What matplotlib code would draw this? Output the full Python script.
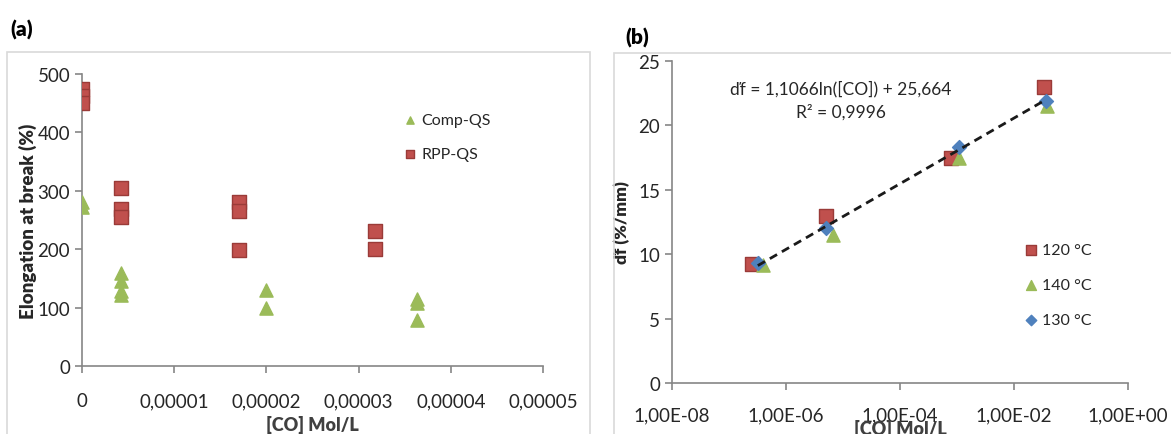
import numpy as np
import matplotlib
matplotlib.use("Agg")
import matplotlib.pyplot as plt
from matplotlib.patches import Rectangle

plt.rcParams['font.family'] = ['Lato', 'DejaVu Sans']

# ---------------- Panel (a) data ----------------
rpp_x = [0, 0, 0, 4.2e-6, 4.2e-6, 4.2e-6, 1.7e-5, 1.7e-5, 1.7e-5, 3.18e-5, 3.18e-5]
rpp_y = [475, 462, 450, 305, 268, 255, 280, 265, 198, 231, 201]
comp_x = [0, 0, 4.2e-6, 4.2e-6, 4.2e-6, 4.2e-6, 2.0e-5, 2.0e-5, 3.63e-5, 3.63e-5, 3.63e-5]
comp_y = [281, 272, 160, 145, 128, 121, 130, 100, 115, 108, 79]
a_xticks = [0, 1e-5, 2e-5, 3e-5, 4e-5, 5e-5]
a_xticklabels = ["0", "0,00001", "0,00002", "0,00003", "0,00004", "0,00005"]
a_yticks = [0, 100, 200, 300, 400, 500]

# ---------------- Panel (b) data ----------------
t120_x = [2.5e-7, 5.1e-6, 7.8e-4, 3.4e-2]
t120_y = [9.27, 13.0, 17.5, 22.95]
t140_x = [3.9e-7, 6.8e-6, 1.1e-3, 3.8e-2]
t140_y = [9.2, 11.5, 17.5, 21.5]
t130_x = [3.2e-7, 5.1e-6, 1.07e-3, 3.6e-2]
t130_y = [9.3, 12.0, 18.3, 21.9]
fit_a = 1.1066
fit_b = 25.664
b_xticks = [1e-8, 1e-6, 1e-4, 1e-2, 1e0]
b_xticklabels = ["1,00E-08", "1,00E-06", "1,00E-04", "1,00E-02", "1,00E+00"]
b_yticks = [0, 5, 10, 15, 20, 25]

RED = "#C0504D"
RED_E = "#9A3B38"
GREEN = "#9BBB59"
BLUE = "#4F81BD"
SPINE = "#868686"
TXT = "#404040"

W, H = 1171, 435
fig = plt.figure(figsize=(W / 100, H / 100), dpi=100)

def frac(l, t, r, b):
    return [l / W, 1 - b / H, (r - l) / W, (b - t) / H]

# frames
fig.patches.append(Rectangle((7 / W, -0.1), (590 - 7) / W, 1 - 53 / H + 0.1,
                             transform=fig.transFigure, fill=False,
                             edgecolor="#D9D9D9", lw=1.2))
fig.patches.append(Rectangle((614 / W, -0.1), (1175 - 614) / W, 1 - 54 / H + 0.1,
                             transform=fig.transFigure, fill=False,
                             edgecolor="#D9D9D9", lw=1.2))

def style(ax):
    for s in ["top", "right"]:
        ax.spines[s].set_visible(False)
    for s in ["left", "bottom"]:
        ax.spines[s].set_color(SPINE)
        ax.spines[s].set_linewidth(1.2)
    ax.tick_params(direction="out", length=5, width=1.2, color=SPINE,
                   labelsize=13.5, labelcolor="#262626")

# ---------------- Panel (a) ----------------
axa = fig.add_axes(frac(82, 75, 543, 367))
style(axa)
axa.scatter(comp_x, comp_y, marker="^", s=90, color=GREEN, edgecolors=GREEN,
            label="Comp-QS", zorder=3)
axa.scatter(rpp_x, rpp_y, marker="s", s=110, color=RED, edgecolors=RED_E,
            linewidths=1, label="RPP-QS", zorder=3)
axa.set_xlim(0, 5e-5)
axa.set_ylim(0, 500)
axa.set_xticks(a_xticks)
axa.set_xticklabels(a_xticklabels)
axa.set_yticks(a_yticks)
axa.tick_params(axis="x", pad=14)
axa.set_xlabel("[CO] Mol/L", fontsize=13, fontweight="heavy", color=TXT, labelpad=4)
axa.set_ylabel("Elongation at break (%)", fontsize=13.5, fontweight="heavy",
               color="#262626", labelpad=0)
axa.legend(loc="upper left", bbox_to_anchor=(0.66, 0.915), frameon=False,
           fontsize=11.5, handletextpad=0.1, labelspacing=1.2,
           markerscale=0.55, handlelength=1.2, labelcolor="#262626")
fig.text(10 / W, 1 - 30 / H, "(a)", fontsize=15, fontweight="heavy",
         va="center", ha="left")

# ---------------- Panel (b) ----------------
axb = fig.add_axes(frac(672, 62, 1128, 384))
style(axb)
axb.set_xscale("log")
axb.scatter(t120_x, t120_y, marker="s", s=100, color=RED, edgecolors=RED_E,
            linewidths=1, label="120 °C", zorder=3)
axb.scatter(t140_x, t140_y, marker="^", s=90, color=GREEN, edgecolors=GREEN,
            label="140 °C", zorder=3)
axb.scatter(t130_x, t130_y, marker="D", s=50, color=BLUE, edgecolors=BLUE,
            label="130 °C", zorder=4)
xf = np.geomspace(min(t130_x), max(t130_x), 100)
axb.plot(xf, fit_a * np.log(xf) + fit_b, ls=(0, (3, 2)), color="#1a1a1a",
         lw=2.0, zorder=5)
axb.set_xlim(1e-8, 1e0)
axb.set_ylim(0, 25)
axb.set_xticks(b_xticks)
axb.set_xticklabels(b_xticklabels)
axb.minorticks_off()
axb.set_yticks(b_yticks)
axb.tick_params(axis="x", pad=12)
axb.set_xlabel("[CO] Mol/L", fontsize=13, fontweight="heavy", color=TXT, labelpad=-3)
axb.set_ylabel("ďf (%/mm)", fontsize=12.5, fontweight="heavy", color="#262626",
               labelpad=6)
axb.text(0.37, 0.88, "ďf = 1,1066ln([CO]) + 25,664\nR² = 0,9996",
         transform=axb.transAxes, ha="center", va="center", fontsize=12.5,
         linespacing=1.45, color="#262626")
axb.legend(loc="upper left", bbox_to_anchor=(0.735, 0.48), frameon=False,
           fontsize=11.5, handletextpad=0.1, labelspacing=1.3,
           markerscale=0.75, handlelength=1.2, labelcolor="#262626")
fig.text(625 / W, 1 - 38 / H, "(b)", fontsize=15, fontweight="heavy",
         va="center", ha="left")

fig.savefig("out.png", dpi=100)
